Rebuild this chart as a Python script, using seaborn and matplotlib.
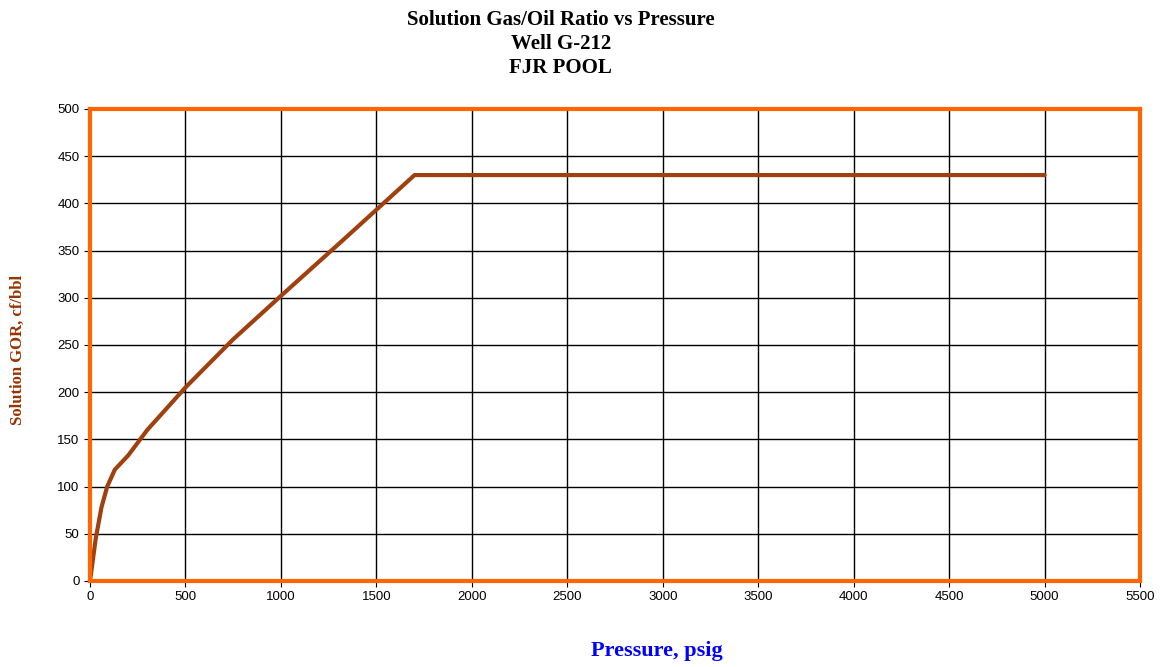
import numpy as np
import pandas as pd
import matplotlib.pyplot as plt
import seaborn as sns

# pressure (psig) vs solution GOR (cf/bbl)
pressure = [0, 30, 60, 90, 130, 200, 300, 500, 750, 1000, 1330, 1700, 5000]
gor = [0, 45, 78, 100, 118, 133, 160, 205, 256, 302, 362, 430, 430]

x_ticks = list(range(0, 5501, 500))
y_ticks = list(range(0, 501, 50))

df = pd.DataFrame({'Pressure': pressure, 'GOR': gor})

sns.set_style('white')
plt.rcParams['font.family'] = ['Liberation Sans', 'DejaVu Sans']

fig = plt.figure(figsize=(11.66, 6.67), dpi=100)
ax = fig.add_axes([0.0772, 0.129, 0.9005, 0.7076])

sns.lineplot(data=df, x='Pressure', y='GOR', ax=ax, color='#A0400F', linewidth=3)

ax.set_xlim(0, 5500)
ax.set_ylim(0, 500)
ax.set_xticks(x_ticks)
ax.set_yticks(y_ticks)
ax.grid(True, color='black', linewidth=1)
ax.set_axisbelow(True)
for s in ax.spines.values():
    s.set_color('#FF6600')
    s.set_linewidth(3)
ax.tick_params(axis='both', labelsize=9.5, length=4, color='black', labelcolor='black',
               direction='out', bottom=True, left=True)

ax.set_xlabel('Pressure, psig', fontsize=16, fontweight='bold', color='#0000FF',
              family='Liberation Serif')
ax.xaxis.set_label_coords(0.54, -0.127)
ax.set_ylabel('Solution GOR, cf/bbl', fontsize=12, fontweight='bold', color='#993300',
              family='Liberation Serif')
ax.yaxis.set_label_coords(-0.061, 0.489)

fig.text(0.481, 0.985, 'Solution Gas/Oil Ratio vs Pressure\nWell G-212\nFJR POOL',
         ha='center', va='top', fontsize=15, fontweight='bold', color='black',
         family='Liberation Serif', linespacing=1.25)

fig.savefig('out.png', dpi=100)
